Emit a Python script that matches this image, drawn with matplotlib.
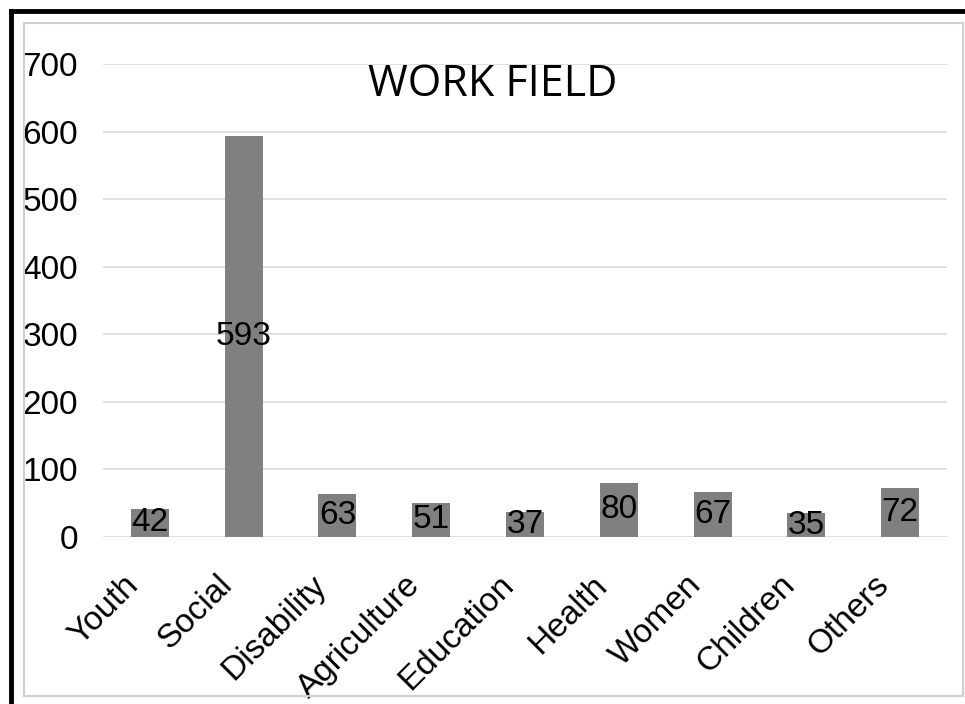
import matplotlib.pyplot as plt
import matplotlib.transforms as mtransforms
from matplotlib.patches import Rectangle
from matplotlib.lines import Line2D

# data
fields = ["Youth", "Social", "Disability", "Agriculture", "Education",
          "Health", "Women", "Children", "Others"]
counts = [42, 593, 63, 51, 37, 80, 67, 35, 72]
yticks = [0, 100, 200, 300, 400, 500, 600, 700]

W, H = 965, 704
fig = plt.figure(figsize=(W / 100, H / 100), dpi=100)
ax = fig.add_axes([103 / W, 1 - 537 / H, (947 - 103) / W, (537 - 64) / H])

x = range(len(fields))
bars = ax.bar(x, counts, width=0.405, color="#808080", zorder=2)
for b, v in zip(bars, counts):
    ax.text(b.get_x() + b.get_width() / 2, v / 2, str(v), ha="center", va="center",
            fontsize=24, family="Liberation Sans", zorder=3)

ax.set_xlim(-0.5, len(fields) - 0.5)
ax.set_ylim(0, 700)
ax.set_yticks(yticks)
ax.set_yticklabels([str(t) for t in yticks], fontsize=24, family="Liberation Sans")
ax.yaxis.grid(True, color="#d9d9d9", linewidth=1.2, zorder=0)
ax.tick_params(axis="y", length=0, pad=18)
ax.tick_params(axis="x", length=0, pad=14)
ax.set_xticks(list(x))
ax.set_xticklabels(fields, rotation=45, ha="right", rotation_mode="anchor",
                   fontsize=24, family="Liberation Sans")
shift = mtransforms.ScaledTranslation(-0.27, -0.13, fig.dpi_scale_trans)
for lab in ax.get_xticklabels():
    lab.set_transform(lab.get_transform() + shift)
for s in ax.spines.values():
    s.set_visible(False)

fig.text(493 / W, 1 - 85 / H, "WORK FIELD", ha="center", va="center",
         fontsize=31, family="Open Sans")

# chart area border and outer frame
fig.patches.append(Rectangle((24 / W, 1 - 696 / H), (963 - 24) / W, (696 - 23) / H,
                             transform=fig.transFigure, fill=False,
                             edgecolor="#d0d0d0", linewidth=1.5))
fig.lines.append(Line2D([11 / W, 11 / W], [0, 1 - 11 / H], transform=fig.transFigure,
                        color="black", linewidth=3.5, solid_capstyle="projecting"))
fig.lines.append(Line2D([11 / W, 1], [1 - 11 / H, 1 - 11 / H], transform=fig.transFigure,
                        color="black", linewidth=3.5, solid_capstyle="projecting"))

fig.savefig("out.png", dpi=100)
